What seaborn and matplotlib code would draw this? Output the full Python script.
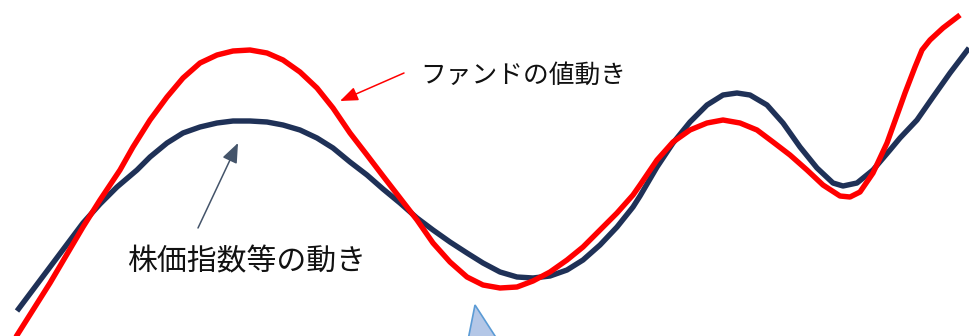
import matplotlib
matplotlib.use("Agg")
import matplotlib.pyplot as plt
import seaborn as sns
import pandas as pd
from matplotlib.patches import Polygon

H = 336

# Index (株価指数等) curve: x position and pixel-row reading (converted to level below)
index_x = [17, 50, 83, 100, 117, 137, 150, 167, 183, 200, 217, 233, 250, 267, 283, 300,
           317, 333, 350, 367, 383, 400, 417, 433, 450, 467, 483, 500, 517, 533, 550,
           567, 583, 600, 617, 633, 640, 657, 673, 690, 707, 723, 737, 750, 767, 783,
           800, 817, 833, 843, 857, 873, 890, 900, 917, 933, 950, 969]
index_px = [311, 267, 223, 204, 187, 170, 157, 143, 133, 127, 123, 121, 121, 122, 125, 130,
            138, 148, 162, 175, 189, 203, 218, 230, 242, 253, 263, 272, 277, 278, 276,
            270, 260, 245, 227, 207, 196, 167, 143, 122, 105, 95, 93, 95, 105, 123,
            147, 168, 183, 186, 183, 170, 150, 138, 120, 97, 73, 48]

# Fund (ファンド) curve
fund_x = [14, 50, 83, 100, 120, 133, 150, 167, 183, 200, 217, 233, 250, 267, 283, 300,
          317, 333, 350, 367, 383, 400, 417, 433, 450, 467, 483, 500, 517, 533, 550,
          567, 583, 600, 617, 633, 640, 657, 673, 690, 707, 723, 740, 757, 773, 790,
          807, 823, 840, 850, 860, 873, 887, 900, 905, 915, 922, 930, 943, 960]
fund_px = [340, 283, 227, 200, 170, 147, 120, 97, 78, 63, 55, 51, 50, 53, 60, 72,
           88, 108, 133, 155, 176, 198, 220, 243, 262, 277, 285, 288, 287, 281, 272,
           260, 247, 230, 213, 195, 185, 160, 142, 130, 123, 120, 123, 130, 142, 155,
           170, 185, 196, 197, 192, 173, 143, 107, 93, 67, 50, 40, 28, 15]

index_y = [H - v for v in index_px]
fund_y = [H - v for v in fund_px]

label_fund = "ファンドの値動き"
label_index = "株価指数等の動き"

sns.set_theme(style="white")
plt.rcParams['font.family'] = ['Noto Sans CJK JP', 'DejaVu Sans']

fig = plt.figure(figsize=(9.69, 3.36), dpi=100)
ax = fig.add_axes([0, 0, 1, 1])

df_idx = pd.DataFrame({"x": index_x, "y": index_y})
df_fund = pd.DataFrame({"x": fund_x, "y": fund_y})

sns.lineplot(data=df_idx, x="x", y="y", ax=ax, color="#1F3157", linewidth=3.9,
             estimator=None, sort=False, solid_capstyle="butt", solid_joinstyle="round")
sns.lineplot(data=df_fund, x="x", y="y", ax=ax, color="#FF0000", linewidth=3.9,
             estimator=None, sort=False, solid_capstyle="butt", solid_joinstyle="round")

ax.set_xlim(0, 969)
ax.set_ylim(0, H)
ax.axis("off")

# Annotations
ax.annotate("", xy=(340, H - 101), xytext=(404, H - 73),
            arrowprops=dict(arrowstyle="-|>,head_length=0.9,head_width=0.35",
                            color="#FF0000", lw=1.1, shrinkA=0, shrinkB=0))
ax.text(420, H - 76, label_fund, fontsize=18.5, color="#111111", va="center", ha="left")

ax.annotate("", xy=(238, H - 143), xytext=(198, H - 228),
            arrowprops=dict(arrowstyle="-|>,head_length=1.0,head_width=0.4",
                            color="#44546A", lw=1.1, shrinkA=0, shrinkB=0))
ax.text(127, H - 262, label_index, fontsize=21.5, color="#111111", va="center", ha="left")

# Small triangle shape at the bottom
tri = Polygon([(475, H - 305), (462, H - 370), (517, H - 370)], closed=True,
              facecolor="#B4C7E7", edgecolor="#5B9BD5", lw=1.2, clip_on=True)
ax.add_patch(tri)

fig.savefig("out.png", dpi=100)
